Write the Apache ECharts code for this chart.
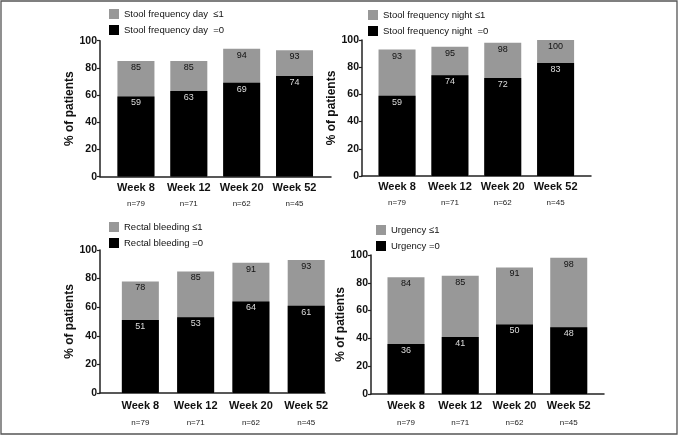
<!DOCTYPE html>
<html><head><meta charset="utf-8">
<script src="https://cdn.jsdelivr.net/npm/echarts@6/dist/echarts.min.js"></script>
<style>html,body{margin:0;padding:0;background:#fff}#c{width:679px;height:436px}</style>
</head><body><div id="c"></div>
<script>
// ---- data ----
const categories = ['Week 8', 'Week 12', 'Week 20', 'Week 52'];
const nLabels = ['n=79', 'n=71', 'n=62', 'n=45'];
const yTicks = [0, 20, 40, 60, 80, 100];
const dayLe1 = [85, 85, 94, 93];
const dayEq0 = [59, 63, 69, 74];
const nightLe1 = [93, 95, 98, 100];
const nightEq0 = [59, 74, 72, 83];
const bleedLe1 = [78, 85, 91, 93];
const bleedEq0 = [51, 53, 64, 61];
const urgLe1 = [84, 85, 91, 98];
const urgEq0 = [36, 41, 50, 48];
const legendLe1 = ['Stool frequency day  \u22641', 'Stool frequency night \u22641', 'Rectal bleeding \u22641', 'Urgency \u22641'];
const legendEq0 = ['Stool frequency day  =0', 'Stool frequency night  =0', 'Rectal bleeding =0', 'Urgency =0'];
const yName = '% of patients';

// ---- layout / style ----
const FONT = 'Liberation Sans, Arial, sans-serif';
const panels = [
  {le1: dayLe1, eq0: dayEq0, grid: {left: 100, top: 40.7, width: 231, height: 136}, xmin: -0.68, xmax: 3.69, legend: {left: 109, top: 9}, nameGap: 14, margin: 4, nLH: 18},
  {le1: nightLe1, eq0: nightEq0, grid: {left: 362, top: 40, width: 229, height: 136}, xmin: -0.663, xmax: 3.67, legend: {left: 368, top: 10}, nameGap: 24, margin: 4, nLH: 18},
  {le1: bleedLe1, eq0: bleedEq0, grid: {left: 100, top: 250, width: 225, height: 143}, xmin: -0.73, xmax: 3.34, legend: {left: 109, top: 222}, nameGap: 16, margin: 6, nLH: 20},
  {le1: urgLe1, eq0: urgEq0, grid: {left: 371, top: 255, width: 233, height: 139}, xmin: -0.645, xmax: 3.65, legend: {left: 376, top: 225}, nameGap: 24, margin: 5, nLH: 20}
];

const option = {
  animation: false,
  backgroundColor: '#fff',
  grid: [], xAxis: [], yAxis: [], legend: [], series: [],
  graphic: [{type: 'rect', shape: {x: 1, y: 1, width: 676, height: 433}, style: {fill: 'none', stroke: '#555', lineWidth: 1.3}, silent: true}]
};

panels.forEach((p, i) => {
  option.grid.push(Object.assign({containLabel: false}, p.grid));
  option.xAxis.push({
    type: 'value', gridIndex: i, min: p.xmin, max: p.xmax,
    axisLine: {show: true, onZero: false, lineStyle: {color: '#222', width: 1.5}},
    axisTick: {show: false},
    splitLine: {show: false},
    axisLabel: {
      customValues: [0, 1, 2, 3], margin: p.margin, hideOverlap: false,
      formatter: v => '{w|' + categories[Math.round(v)] + '}\n{n|' + nLabels[Math.round(v)] + '}',
      rich: {
        w: {fontFamily: FONT, fontWeight: 'bold', fontSize: 11, color: '#111', lineHeight: 14},
        n: {fontFamily: FONT, fontSize: 8, color: '#222', lineHeight: p.nLH}
      }
    }
  });
  option.yAxis.push({
    type: 'value', gridIndex: i, min: yTicks[0], max: yTicks[yTicks.length - 1], interval: 20,
    name: yName, nameLocation: 'middle', nameGap: p.nameGap,
    nameTextStyle: {fontFamily: FONT, fontWeight: 'bold', fontSize: 12, color: '#111'},
    axisLine: {show: true, onZero: false, lineStyle: {color: '#222', width: 1.5}},
    axisTick: {show: true, length: 3, lineStyle: {color: '#222', width: 1.2}},
    splitLine: {show: false},
    axisLabel: {margin: 3, fontFamily: FONT, fontWeight: 'bold', fontSize: 10.5, color: '#111'}
  });
  option.legend.push({
    orient: 'vertical', left: p.legend.left, top: p.legend.top, padding: 0,
    itemWidth: 10, itemHeight: 10, itemGap: 6, icon: 'rect',
    data: [legendLe1[i], legendEq0[i]],
    textStyle: {fontFamily: FONT, fontSize: 9.5, color: '#111', padding: [0, 0, 0, 0]}
  });
  option.series.push({
    type: 'bar', name: legendLe1[i], xAxisIndex: i, yAxisIndex: i,
    barWidth: 37, barGap: '-100%',
    itemStyle: {color: '#989898'},
    label: {show: true, position: 'insideTop', distance: 2, fontFamily: FONT, fontSize: 9, color: '#111'},
    data: p.le1.map((v, k) => [k, v])
  });
  option.series.push({
    type: 'bar', name: legendEq0[i], xAxisIndex: i, yAxisIndex: i,
    barWidth: 37, barGap: '-100%',
    itemStyle: {color: '#000'},
    label: {show: true, position: 'insideTop', distance: 2, fontFamily: FONT, fontSize: 9, color: '#ddd'},
    data: p.eq0.map((v, k) => [k, v])
  });
});

const chart = echarts.init(document.getElementById('c'), null, {renderer: 'canvas'});
chart.setOption(option);
</script>
</body></html>
